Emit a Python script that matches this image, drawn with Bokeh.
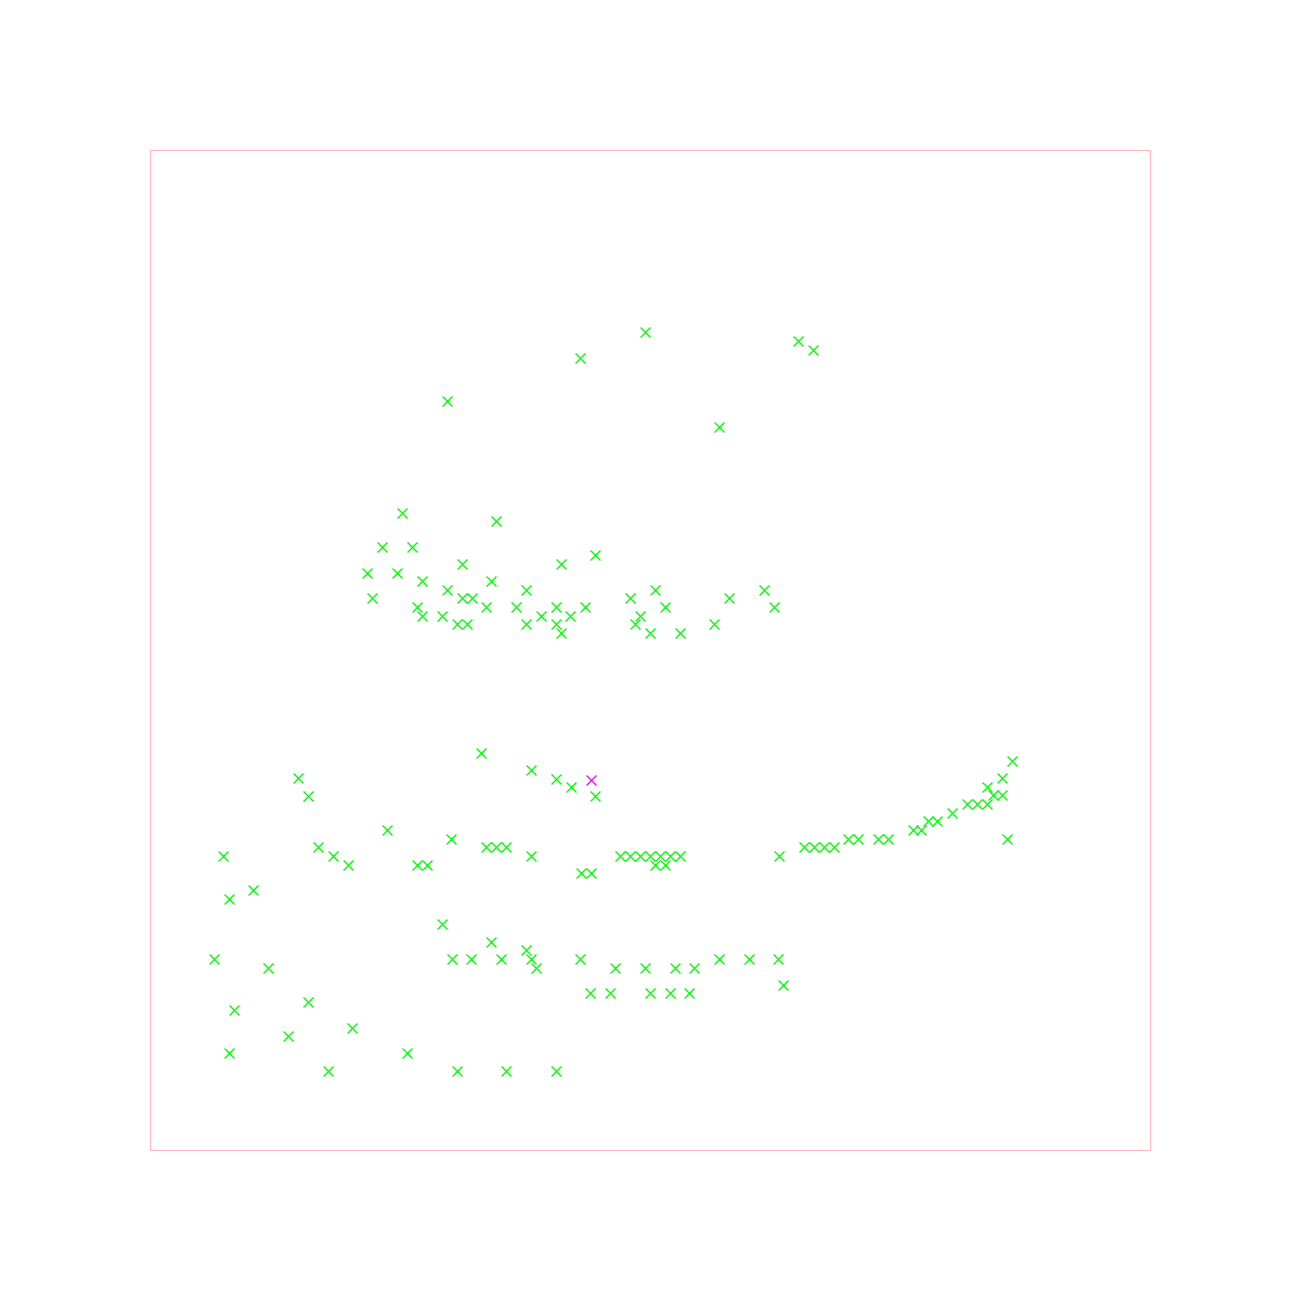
from bokeh.plotting import figure
from bokeh.models import Range1d
from bokeh.embed import file_html
from bokeh.resources import INLINE

# Green series (data units: frame spans 0..1000 on both axes)
green_x = [297, 430, 495, 648, 663, 569,
           252, 346, 232, 262, 312, 411, 217, 247, 272, 341, 297, 376, 222, 312, 322,
           267, 336, 366, 406, 272, 292, 391, 420, 307, 317, 376, 406, 411,
           445, 435, 480, 505, 515, 490, 485, 500, 530, 579, 614, 624, 564,
           148, 158, 237, 168, 183, 198, 73, 267, 277, 103, 79, 301,
           331, 381, 406, 421, 445, 336, 346, 356, 381, 431, 441,
           470, 480, 490, 500, 510, 520, 530, 505, 515, 629,
           654, 664, 674, 684, 698, 708, 728, 738, 763, 771, 778, 787, 802,
           817, 827, 837, 837, 843, 852, 852, 862, 857,
           64, 118, 292, 158, 84, 202, 138, 79, 257, 178,
           302, 321, 341, 351, 376, 381, 386, 430, 465, 495, 525, 544, 569, 599, 628, 633,
           440, 460, 500, 520, 539, 307, 356, 406]
green_y = [749, 792, 818, 809, 800, 723,
           637, 629, 603, 603, 586, 586, 577, 577, 569, 569, 560, 560, 552, 552, 552,
           543, 543, 543, 543, 534, 534, 534, 534, 526, 526, 526, 526, 517,
           595, 543, 552, 560, 543, 534, 526, 517, 517, 552, 560, 543, 526,
           372, 354, 320, 303, 294, 285, 294, 285, 285, 260, 251, 311,
           397, 380, 371, 363, 354, 303, 303, 303, 294, 277, 277,
           294, 294, 294, 294, 294, 294, 294, 285, 285, 294,
           303, 303, 303, 303, 311, 311, 311, 311, 320, 320, 329, 329, 337,
           346, 346, 346, 363, 355, 355, 372, 389, 311,
           191, 182, 226, 148, 140, 122, 114, 97, 97, 79,
           191, 191, 208, 191, 200, 191, 182, 191, 182, 182, 182, 182, 191, 191, 191, 165,
           157, 157, 157, 157, 157, 79, 79, 79]

# Highlighted point
pink_x = [441]
pink_y = [370]

p = figure(width=1300, height=1300, output_backend="svg", toolbar_location=None,
           x_range=Range1d(0, 1000), y_range=Range1d(0, 1000),
           x_axis_location=None, y_axis_location=None,
           min_border_left=150, min_border_right=150,
           min_border_top=150, min_border_bottom=150)
p.grid.visible = False
p.outline_line_color = "#ffb6c1"
p.outline_line_width = 1
p.background_fill_color = "white"
p.border_fill_color = "white"

p.scatter(green_x, green_y, marker="x", size=14, line_color="#00ff00", line_width=1.3)
p.scatter(pink_x, pink_y, marker="x", size=14, line_color="#ff00ff", line_width=1.3)

open("out.html", "w").write(file_html(p, INLINE))
